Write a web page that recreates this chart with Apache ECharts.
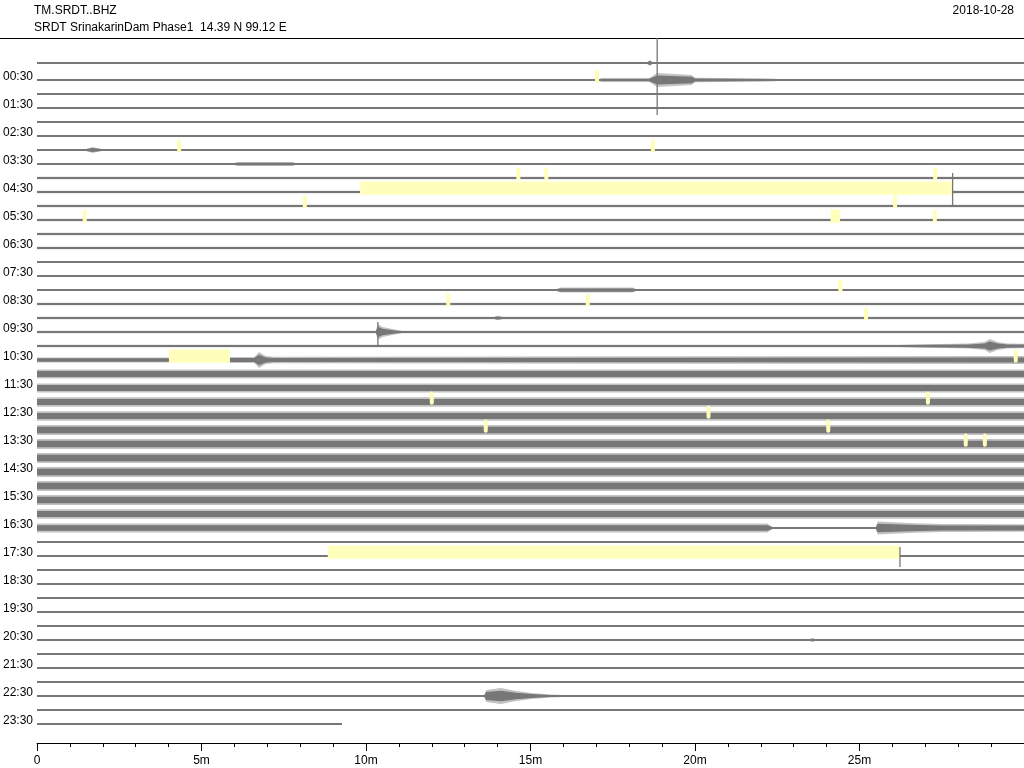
<!DOCTYPE html>
<html><head><meta charset="utf-8">
<script src="https://cdn.jsdelivr.net/npm/echarts/dist/echarts.min.js"></script>
<style>html,body{margin:0;padding:0;background:#fff}#c{width:1024px;height:768px}</style>
</head><body><div id="c"></div>
<script>
// ---------------- data ----------------
const stationCode = 'TM.SRDT..BHZ';
const stationInfo = 'SRDT SrinakarinDam Phase1  14.39 N 99.12 E';
const dayLabel = '2018-10-28';
const traceCount = 48;               // one trace per 30 minutes
const traceMinutes = 30;             // x range of each trace, minutes
const ampPerTrace = 14;              // amplitude units per trace spacing

// background noise half-amplitude of each trace (amplitude units)
const baseAmp = [
  1.0,1.0,1.0,1.0,1.0,1.0,1.1,1.1,1.3,1.2,1.2,1.2,1.2,1.2,1.1,1.1,1.1,1.2,1.2,1.2,
  1.2,3.0,4.5,4.6,4.8,4.8,5.0,5.0,5.0,5.0,5.0,5.0,4.8,4.4,
  0.9,0.9,0.9,0.9,0.9,0.9,0.9,0.9,0.9,0.9,0.9,0.9,0.9,0.9
];
// mean (DC) offset of traces that sit away from their nominal line (amplitude units, + = down)
const traceOffsets = {0:-3};
// amplitude envelope knots [minute, half-amplitude] where a trace departs from its background
const profiles = {
  0:  [[18.55,1],[18.63,3],[18.7,1]],
  1:  [[17.1,1],[17.15,1.8],[18.6,1.8],[18.85,7],[19.9,5],[20.0,2.2],[22.3,1.5],[22.5,1]],
  6:  [[1.5,1.1],[1.69,3],[1.95,1.1]],
  7:  [[6.0,1.1],[6.1,2],[7.75,2],[7.85,1.1]],
  16: [[15.8,1.1],[15.9,2.5],[18.1,2.5],[18.2,1.1]],
  18: [[13.9,1.2],[14.0,2.3],[14.15,1.2]],
  19: [[10.3,1.2],[10.36,8],[10.5,5],[10.95,2],[11.1,1.2]],
  20: [[26.2,1.2],[28.3,2.5],[28.8,4],[28.96,7],[29.2,4],[29.5,2.5],[30,2.2]],
  21: [[0,2.6],[4.0,2.6],[5.9,3],[6.6,3],[6.75,8],[6.95,4],[7.2,3.2],[30,4]],
  33: [[0,4.4],[22.2,4.4],[22.35,1.0],[25.5,1.0],[25.55,6.5],[26.5,5],[27.5,4],[30,3.8]],
  41: [[23.5,0.9],[23.57,2],[23.65,0.9]],
  45: [[13.6,0.9],[13.65,6],[14.1,8],[14.57,5],[15.03,3],[15.6,1.5],[16.0,0.9]]
};
// single large excursions [trace, minute, up, down]
const spikes = [[1,18.85,42,35],[9,27.83,19,14],[19,10.36,10,13],[35,26.23,9,11]];
// data gaps [trace, startMinute, endMinute]
const gaps = [[9,9.82,27.83],[21,4.01,5.86],[35,8.84,26.23],[11,24.12,24.41]];
// short gap markers [trace, minute]
const marks = [
  [1,17.02],[6,4.32],[6,18.72],[8,14.63],[8,15.48],[8,27.3],[10,8.14],[10,26.08],
  [11,1.45],[11,27.29],[16,24.42],[17,12.5],[17,16.74],[18,25.2],[21,29.75],
  [24,12.0],[24,27.08],[25,20.41],[26,13.64],[26,24.05],[27,28.23],[27,28.81]
];
// traces that stop early [trace, lastMinute]
const traceEnds = [[47,9.27]];

// ---------------- helpers ----------------
const GRAY = '#777777', YEL = '#ffffbb';
function pad(n){return (n<10?'0':'')+n;}
function endOf(i){const e=traceEnds.find(d=>d[0]===i);return e?e[1]:traceMinutes;}
function intervals(i){
  let ivs=[[0,endOf(i)]];
  gaps.filter(g=>g[0]===i && g[2]-g[1]>0.5).forEach(g=>{
    ivs=ivs.flatMap(([a,b])=>{
      if(g[2]<=a||g[1]>=b) return [[a,b]];
      const r=[]; if(g[1]>a) r.push([a,g[1]]); if(g[2]<b) r.push([g[2],b]); return r;
    });
  });
  return ivs;
}
function ampAt(i,t){
  const k=profiles[i], b=baseAmp[i];
  if(!k||t<k[0][0]||t>k[k.length-1][0]) return b;
  for(let j=0;j<k.length-1;j++){
    if(t>=k[j][0]&&t<=k[j+1][0]){
      const d=k[j+1][0]-k[j][0]; const f=d?(t-k[j][0])/d:0;
      return k[j][1]+f*(k[j+1][1]-k[j][1]);
    }
  }
  return b;
}
function band(api,i,a,b,scale,minA){
  const ts=[a];
  (profiles[i]||[]).forEach(k=>{if(k[0]>a&&k[0]<b) ts.push(k[0]);});
  ts.push(b);
  const c=i+(traceOffsets[i]||0)/ampPerTrace;
  const amp=t=>{const v=ampAt(i,t);return Math.min(v,Math.max(minA,v*scale))/ampPerTrace;};
  const up=ts.map(t=>api.coord([t,c-amp(t)]));
  const dn=ts.slice().reverse().map(t=>api.coord([t,c+amp(t)]));
  return up.concat(dn);
}

const traceData = Array.from({length:traceCount},(_,i)=>[i]);
const yellowData = gaps.map(g=>[g[0],g[1],g[2],0]).concat(marks.map(m=>[m[0],m[1],m[1],1]));

const chart = echarts.init(document.getElementById('c'),null,{renderer:'canvas'});
chart.setOption({
  animation:false,
  grid:{left:34.3,right:0,top:52,bottom:30},
  graphic:[
    {type:'text',left:34,top:5,style:{text:stationCode,fontSize:12,fontFamily:'Liberation Sans',fill:'#000'}},
    {type:'text',left:34,top:22,style:{text:stationInfo,fontSize:12,fontFamily:'Liberation Sans',fill:'#000'}},
    {type:'text',right:10,top:5,style:{text:dayLabel,fontSize:12,fontFamily:'Liberation Sans',fill:'#000'}},
    {type:'line',shape:{x1:0,y1:38.5,x2:1024,y2:38.5},style:{stroke:'#000',lineWidth:1}}
  ],
  xAxis:{type:'value',min:0,max:traceMinutes,interval:5,offset:5,position:'bottom',
    axisLine:{onZero:false,lineStyle:{color:'#000',width:1}},
    axisTick:{length:8,lineStyle:{color:'#000'}},
    minorTick:{show:true,splitNumber:5,length:4,lineStyle:{color:'#000'}},
    splitLine:{show:false},
    axisLabel:{showMaxLabel:false,margin:12,fontSize:12,fontFamily:'Liberation Sans',color:'#000',
      formatter:v=>v===0?'0':v+'m'}},
  yAxis:{type:'value',inverse:true,min:-1,max:traceCount,interval:1,
    axisLine:{show:false},axisTick:{show:false},splitLine:{show:false},
    axisLabel:{margin:4,fontSize:12,fontFamily:'Liberation Sans',color:'#000',verticalAlign:'bottom',lineHeight:6,
      formatter:v=>(v>=1&&v<traceCount&&v%2===1)?pad((v-1)/2)+':30':''}},
  series:[
    {type:'custom',z:2,data:traceData,encode:{y:0},clip:false,
      renderItem:(params,api)=>{
        const i=api.value(0); const children=[];
        intervals(i).forEach(([a,b])=>{
          children.push({type:'polygon',shape:{points:band(api,i,a,b,1,0)},style:{fill:GRAY,opacity:0.45}});
          children.push({type:'polygon',shape:{points:band(api,i,a,b,0.65,1.0)},style:{fill:GRAY}});
        });
        return {type:'group',children};
      }},
    {type:'custom',z:3,data:yellowData,clip:false,
      renderItem:(params,api)=>{
        const i=api.value(0),t0=api.value(1),t1=api.value(2),kind=api.value(3);
        const p0=api.coord([t0,i-0.75]),p1=api.coord([t1,i+0.2]);
        if(kind===0) return {type:'rect',shape:{x:p0[0],y:p0[1],width:p1[0]-p0[0],height:p1[1]-p0[1]},style:{fill:YEL}};
        return {type:'rect',shape:{x:p0[0]-2,y:p0[1],width:4,height:p1[1]-p0[1],r:2},style:{fill:YEL}};
      }},
    {type:'custom',z:4,data:spikes,clip:false,
      renderItem:(params,api)=>{
        const i=api.value(0),t=api.value(1);
        const a=api.coord([t,i-api.value(2)/ampPerTrace]),b=api.coord([t,i+api.value(3)/ampPerTrace]);
        return {type:'line',shape:{x1:a[0],y1:a[1],x2:b[0],y2:b[1]},style:{stroke:GRAY,lineWidth:1.3}};
      }}
  ]
});
</script></body></html>
